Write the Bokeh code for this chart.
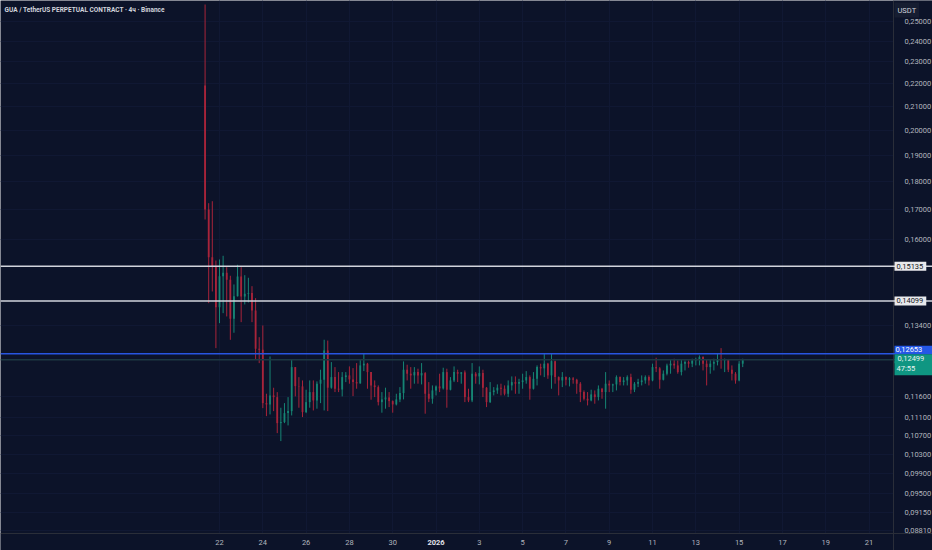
from bokeh.plotting import figure
from bokeh.models import (Range1d, FixedTicker, CustomJSTickFormatter, Span, Label,
                          ColumnDataSource)
from bokeh.embed import file_html
from bokeh.resources import INLINE

# ---------------- data ----------------
title_text = "GUA / TetherUS PERPETUAL CONTRACT · 4ч · Binance"
first_bar_day = 21 + 8 / 24      # 21 Dec 2025, 08:00 (days counted from 1 Dec = 1)
bar_hours = 4

opens = [0.21919, 0.17003, 0.15421, 0.15139, 0.13921, 0.14833, 0.14937, 0.14726, 0.13597, 0.14238,
         0.14824, 0.14229, 0.14308, 0.14330, 0.13827, 0.12784, 0.12758, 0.11437, 0.11406, 0.11618,
         0.11578, 0.10978, 0.11001, 0.11205, 0.11251, 0.12312, 0.11842, 0.11835, 0.11228, 0.11460,
         0.11698, 0.11500, 0.11901, 0.11998, 0.12740, 0.11804, 0.12063, 0.11779, 0.11760, 0.12063,
         0.12105, 0.12006, 0.11940, 0.11908, 0.12355, 0.12399, 0.12187, 0.11859, 0.11818, 0.11460,
         0.11524, 0.11571, 0.11484, 0.11407, 0.11524, 0.11674, 0.12247, 0.12147, 0.12105, 0.12187,
         0.12105, 0.12162, 0.11658, 0.11540, 0.11738, 0.11835, 0.11787, 0.12187, 0.11755, 0.11981,
         0.12187, 0.12147, 0.12180, 0.11579, 0.11500, 0.12147, 0.12080, 0.12162, 0.11804, 0.11460,
         0.11698, 0.11738, 0.11804, 0.11779, 0.11658, 0.11859, 0.11940, 0.11901, 0.11940, 0.11981,
         0.12063, 0.11779, 0.12021, 0.12312, 0.12280, 0.12399, 0.12105, 0.12464, 0.12063, 0.11981,
         0.12063, 0.11998, 0.12031, 0.11998, 0.11901, 0.11698, 0.11540, 0.11500, 0.11643, 0.11579,
         0.11779, 0.11698, 0.11901, 0.11859, 0.11884, 0.12063, 0.11940, 0.11981, 0.12063, 0.11755,
         0.11901, 0.11940, 0.11981, 0.12063, 0.11981, 0.12312, 0.12280, 0.11998, 0.12147, 0.12355,
         0.12399, 0.12355, 0.12187, 0.12399, 0.12439, 0.12399, 0.12482, 0.12495, 0.12567, 0.12399,
         0.12312, 0.12399, 0.12439, 0.12500, 0.12482, 0.12508, 0.12247, 0.12147, 0.11981, 0.12399]

highs = [0.25873, 0.17224, 0.17294, 0.15317, 0.15348, 0.15465, 0.15108, 0.14845, 0.14583, 0.15183,
         0.15108, 0.14863, 0.14784, 0.14532, 0.14180, 0.13091, 0.13409, 0.11659, 0.12584, 0.11803,
         0.11697, 0.11329, 0.11437, 0.11578, 0.12500, 0.12312, 0.12062, 0.11981, 0.11755, 0.11981,
         0.11981, 0.11957, 0.12247, 0.13022, 0.13000, 0.12439, 0.12312, 0.12187, 0.12187, 0.12187,
         0.12330, 0.12287, 0.12414, 0.12500, 0.12670, 0.12420, 0.12187, 0.11981, 0.11859, 0.11698,
         0.11804, 0.11698, 0.11500, 0.11658, 0.11818, 0.12457, 0.12373, 0.12312, 0.12312, 0.12272,
         0.12414, 0.12187, 0.11940, 0.11859, 0.11859, 0.12147, 0.12297, 0.12272, 0.12063, 0.12330,
         0.12247, 0.12187, 0.12229, 0.11779, 0.12414, 0.12187, 0.12330, 0.12247, 0.11818, 0.11940,
         0.11818, 0.11884, 0.11901, 0.11859, 0.11981, 0.12080, 0.12080, 0.12021, 0.12147, 0.12212,
         0.12105, 0.12187, 0.12355, 0.12399, 0.12670, 0.12420, 0.12670, 0.12480, 0.12080, 0.12187,
         0.12080, 0.12063, 0.12063, 0.12021, 0.11940, 0.11738, 0.11698, 0.11755, 0.11738, 0.11859,
         0.11800, 0.12187, 0.11981, 0.11901, 0.12105, 0.12080, 0.12063, 0.12105, 0.12147, 0.11940,
         0.12021, 0.12105, 0.12105, 0.12105, 0.12399, 0.12552, 0.12312, 0.12229, 0.12399, 0.12500,
         0.12526, 0.12482, 0.12500, 0.12482, 0.12482, 0.12526, 0.12552, 0.12611, 0.12590, 0.12500,
         0.12500, 0.12526, 0.12655, 0.12800, 0.12530, 0.12520, 0.12355, 0.12187, 0.12464, 0.12526]

lows = [0.16658, 0.14035, 0.14375, 0.12800, 0.13472, 0.13751, 0.13658, 0.13020, 0.13210, 0.14229,
        0.13500, 0.13998, 0.14055, 0.13500, 0.12515, 0.12413, 0.11320, 0.11136, 0.11175, 0.11251,
        0.10755, 0.10581, 0.10978, 0.10926, 0.11152, 0.11595, 0.11329, 0.11114, 0.11205, 0.11330,
        0.11267, 0.11307, 0.11437, 0.11267, 0.11251, 0.11780, 0.11698, 0.11698, 0.11595, 0.11940,
        0.11901, 0.11602, 0.11779, 0.11901, 0.12212, 0.11779, 0.11517, 0.11579, 0.11383, 0.11215,
        0.11307, 0.11344, 0.11215, 0.11383, 0.11460, 0.11524, 0.11981, 0.11779, 0.11901, 0.11901,
        0.11884, 0.11192, 0.11460, 0.11423, 0.11619, 0.11698, 0.11760, 0.11330, 0.11740, 0.11940,
        0.11940, 0.11901, 0.11460, 0.11460, 0.11460, 0.11901, 0.11884, 0.11579, 0.11344, 0.11440,
        0.11619, 0.11658, 0.11619, 0.11619, 0.11579, 0.11738, 0.11658, 0.11658, 0.11779, 0.11901,
        0.11517, 0.11760, 0.11859, 0.12105, 0.12063, 0.12021, 0.11779, 0.11901, 0.11619, 0.11818,
        0.11859, 0.11835, 0.11901, 0.11658, 0.11460, 0.11500, 0.11383, 0.11480, 0.11423, 0.11500,
        0.11540, 0.11307, 0.11698, 0.11698, 0.11738, 0.11859, 0.11859, 0.11859, 0.11658, 0.11698,
        0.11818, 0.11859, 0.11901, 0.11859, 0.11960, 0.12187, 0.11779, 0.11981, 0.12105, 0.12147,
        0.12272, 0.12147, 0.12105, 0.12229, 0.12297, 0.12312, 0.12355, 0.12355, 0.12229, 0.11859,
        0.12147, 0.12229, 0.12355, 0.12272, 0.12187, 0.12187, 0.11981, 0.11901, 0.11960, 0.12312]

closes = [0.17003, 0.15421, 0.15139, 0.13921, 0.14833, 0.14937, 0.14726, 0.13597, 0.14238, 0.14824,
          0.14229, 0.14308, 0.14330, 0.13827, 0.12784, 0.12758, 0.11437, 0.11406, 0.11618, 0.11578,
          0.10978, 0.11001, 0.11205, 0.11251, 0.12312, 0.11842, 0.11835, 0.11228, 0.11460, 0.11698,
          0.11500, 0.11901, 0.11998, 0.12740, 0.11804, 0.12063, 0.11779, 0.11760, 0.12063, 0.12105,
          0.12006, 0.11940, 0.11908, 0.12355, 0.12399, 0.12187, 0.11859, 0.11818, 0.11460, 0.11524,
          0.11571, 0.11484, 0.11407, 0.11524, 0.11674, 0.12247, 0.12147, 0.12105, 0.12187, 0.12105,
          0.12162, 0.11658, 0.11540, 0.11738, 0.11835, 0.11787, 0.12187, 0.11755, 0.11981, 0.12187,
          0.12147, 0.12180, 0.11579, 0.11500, 0.12147, 0.12080, 0.12162, 0.11804, 0.11460, 0.11698,
          0.11738, 0.11804, 0.11779, 0.11658, 0.11859, 0.11940, 0.11901, 0.11940, 0.11981, 0.12063,
          0.11779, 0.12021, 0.12312, 0.12280, 0.12399, 0.12105, 0.12464, 0.12063, 0.11981, 0.12063,
          0.11998, 0.12031, 0.11998, 0.11901, 0.11698, 0.11540, 0.11500, 0.11643, 0.11579, 0.11779,
          0.11698, 0.11901, 0.11859, 0.11884, 0.12063, 0.11940, 0.11981, 0.12063, 0.11755, 0.11901,
          0.11940, 0.11981, 0.12063, 0.11981, 0.12312, 0.12280, 0.11998, 0.12147, 0.12355, 0.12399,
          0.12355, 0.12187, 0.12399, 0.12439, 0.12399, 0.12482, 0.12495, 0.12567, 0.12399, 0.12312,
          0.12399, 0.12439, 0.12500, 0.12482, 0.12508, 0.12247, 0.12147, 0.11981, 0.12399, 0.12499]

x_tick_days = [22, 24, 26, 28, 30, 32, 34, 36, 38, 40, 42, 44, 46, 48, 50, 52]
x_tick_labels = ["22", "24", "26", "28", "30", "2026", "3", "5", "7", "9", "11", "13",
                 "15", "17", "19", "21"]
price_ticks = [0.25, 0.24, 0.23, 0.22, 0.21, 0.20, 0.19, 0.18, 0.17, 0.16, 0.134,
               0.116, 0.111, 0.107, 0.103, 0.099, 0.095, 0.0915, 0.0881]
white_levels = [0.15135, 0.14099]
white_level_texts = ["0,15135", "0,14099"]
blue_level = 0.12653
blue_level_text = "0,12653"
last_price = 0.12499
last_price_text = "0,12499"
countdown_text = "47:55"
currency_text = "USDT"

# ---------------- style / layout ----------------
BG = "#0c1329"
UP = "#168574"
DOWN = "#a8243a"
AXIS_TXT = "#b2b5be"
SEP = "#2a2e39"
FONT = "Roboto"

# visible window (days / prices); the price axis and time axis sit inside it
x_start, x_end = 11.884, 54.932
x_sep = 53.131                   # where the price scale begins
y_start, y_end = 0.084572, 0.26086
y_sep = 0.08758                  # where the time scale begins

t = [first_bar_day + i * bar_hours / 24 for i in range(len(closes))]
colors = [UP if c >= o else DOWN for o, c in zip(opens, closes)]
src = ColumnDataSource(dict(
    t=t, open=opens, high=highs, low=lows, close=closes,
    top=[max(o, c) for o, c in zip(opens, closes)],
    bottom=[min(o, c) for o, c in zip(opens, closes)],
    color=colors))

p = figure(width=932, height=550, x_range=Range1d(x_start, x_end),
           y_range=Range1d(y_start, y_end), y_axis_type="log", y_axis_location="right",
           output_backend="svg", toolbar_location=None,
           min_border_left=0, min_border_top=0, min_border_right=0, min_border_bottom=0,
           background_fill_color=BG, border_fill_color=BG, outline_line_color=None)

# grid (very faint)
p.xgrid.grid_line_color = "#101833"
p.ygrid.grid_line_color = "#101833"
p.xgrid.ticker = FixedTicker(ticks=x_tick_days)

# cover the scale areas so the grid does not run under them
p.quad(left=[x_sep, x_start], right=[x_end, x_end], bottom=[y_start, y_start],
       top=[y_end, y_sep], fill_color=BG, line_color=None)

# axes placed at fixed positions inside the canvas
p.xaxis.ticker = FixedTicker(ticks=x_tick_days)
p.xaxis.major_label_overrides = {d: ("" if lab == "2026" else lab)
                                 for d, lab in zip(x_tick_days, x_tick_labels)}
p.yaxis.ticker = FixedTicker(ticks=price_ticks)
p.yaxis.formatter = CustomJSTickFormatter(code="return tick.toFixed(5).replace('.', ',');")
p.yaxis.fixed_location = x_sep
p.xaxis.fixed_location = y_sep
for ax in (p.xaxis[0], p.yaxis[0]):
    ax.axis_line_color = SEP
    ax.axis_line_width = 1
    ax.major_tick_line_color = None
    ax.minor_tick_line_color = None
    ax.major_label_text_color = AXIS_TXT
    ax.major_label_text_font = FONT
    ax.major_label_text_font_size = "7.5px"
p.xaxis.major_label_standoff = 1
p.yaxis.major_label_standoff = 5

# level lines
for lv in white_levels:
    p.add_layout(Span(location=lv, dimension="width", line_color="#d1d4dc", line_width=1.6))
p.add_layout(Span(location=last_price, dimension="width", line_color="#1d3842", line_width=1.6))
p.add_layout(Span(location=blue_level, dimension="width", line_color="#2855e0", line_width=1.6))

# candles
p.segment(x0="t", y0="low", x1="t", y1="high", line_color="color", line_width=1, source=src)
p.vbar(x="t", width=bar_hours / 24 * 0.5, top="top", bottom="bottom",
       fill_color="color", line_color=None, source=src)

# title
p.add_layout(Label(x=x_start, y=y_end, x_offset=4, y_offset=-9, text=title_text,
                   text_font=FONT, text_font_size="6.5px", text_font_style="bold",
                   text_color="#d1d4dc", text_baseline="middle"))

# bold year label on the time axis
p.add_layout(Label(x=32, y=y_sep, y_offset=-9.5, text="2026", text_font=FONT,
                   text_font_size="7.5px", text_font_style="bold", text_color="#e0e3eb",
                   text_align="center", text_baseline="middle"))

# price boxes on the price scale
def box(y, text, bg, fg, y_off=0.0, pad=(2, 3, 2, 2)):
    p.add_layout(Label(x=x_sep, y=y, x_offset=1, y_offset=y_off, text=text, text_font=FONT,
                       text_font_size="7.5px", text_color=fg, text_align="left",
                       text_baseline="middle", background_fill_color=bg,
                       border_line_color=None, padding=pad))

for lv, txt in zip(white_levels, white_level_texts):
    box(lv, txt, "#e8e9ec", "#131722")
box(last_price, countdown_text, "#0f9682", "#e6f3f1", y_off=-8.5, pad=(2, 20, 3, 2))
box(last_price, last_price_text, "#0f9682", "#e6f3f1", y_off=1, pad=(3, 12, 2, 2))
box(blue_level, blue_level_text, "#2457e6", "#ffffff", y_off=4, pad=(1, 12, 1, 2))
box(y_end, currency_text, "#161d31", "#d1d4dc", y_off=-9.5, pad=3)

open("out.html", "w").write(file_html(p, INLINE))
